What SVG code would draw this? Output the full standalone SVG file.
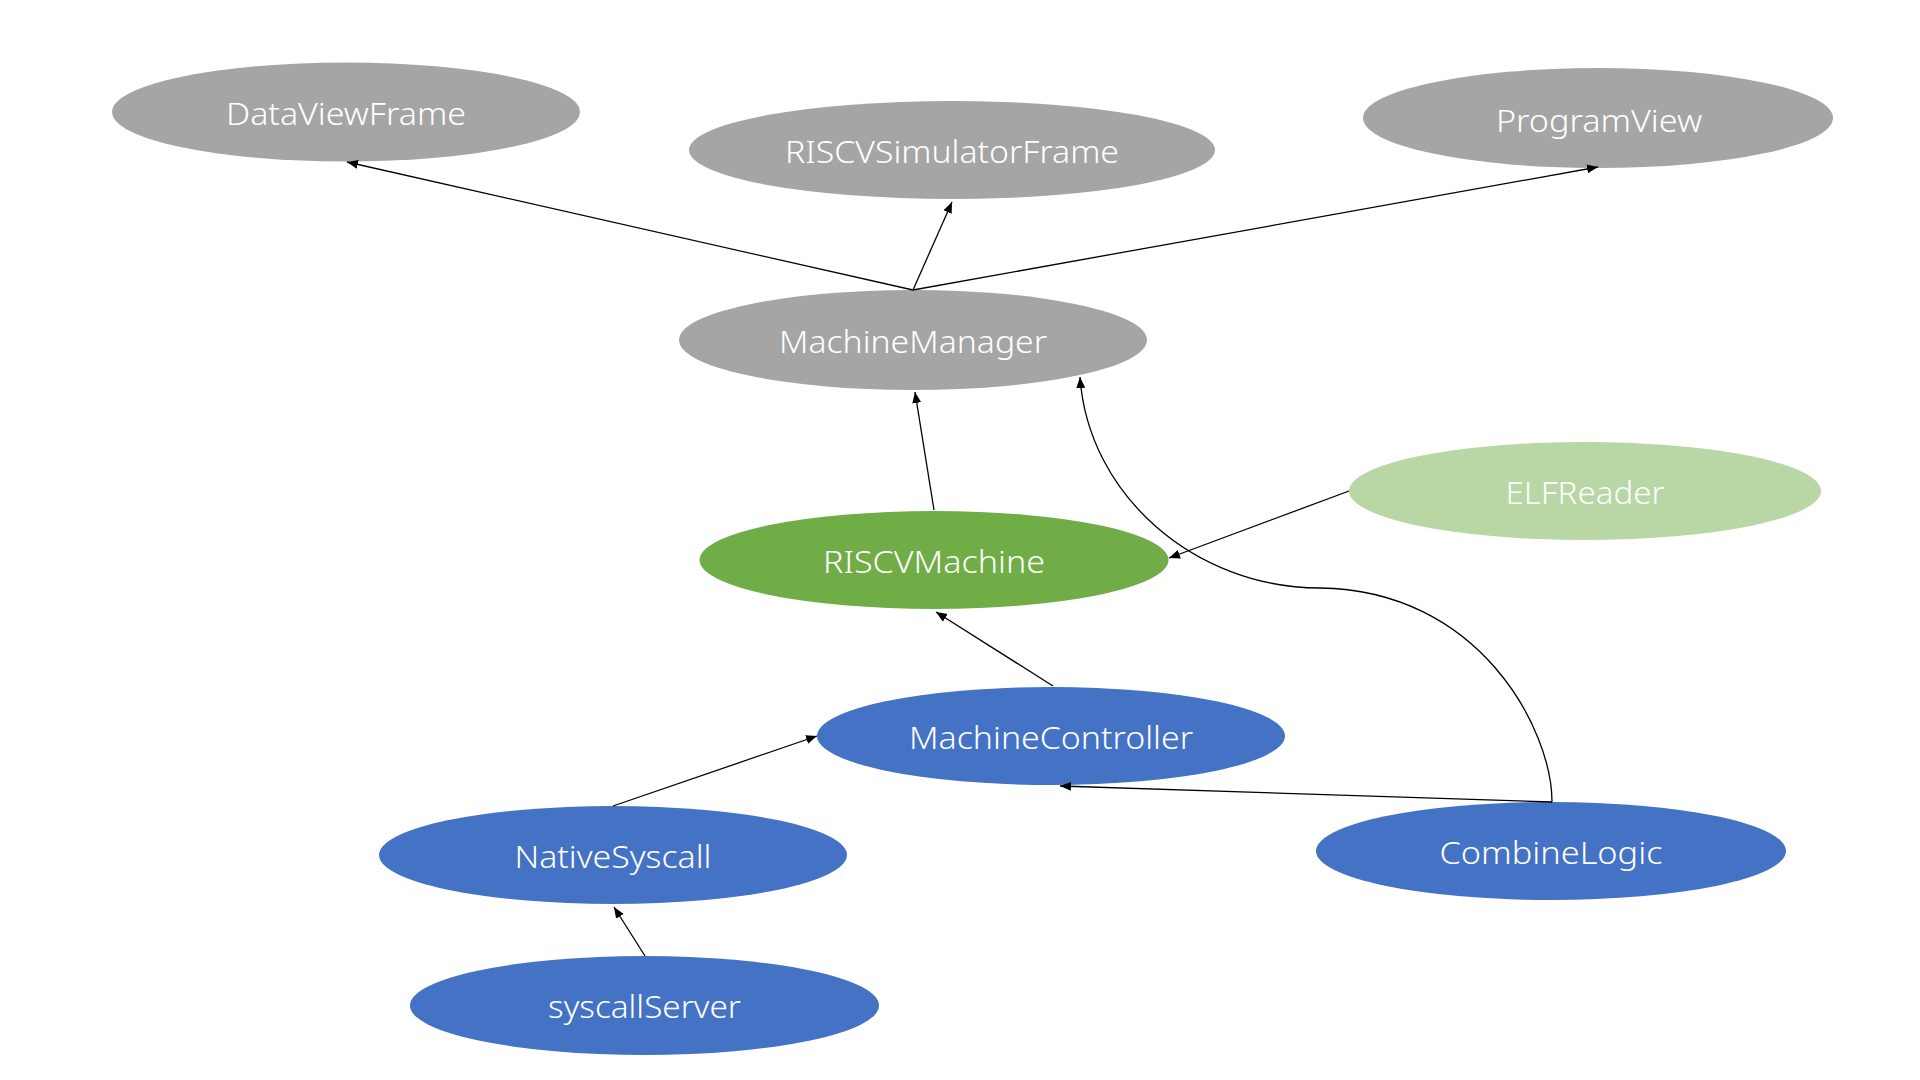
<svg xmlns="http://www.w3.org/2000/svg" width="1920" height="1080" viewBox="0 0 1920 1080">
<defs>
<style>
.gray{fill:#A5A5A5}
.green{fill:#70AD47}
.lgreen{fill:#B9D6A5}
.blue{fill:#4472C4}
.lbl{font-family:"Noto Sans","Open Sans","Liberation Sans",sans-serif;font-weight:300;font-size:32px;fill:#FFFFFF;text-anchor:middle}
.edge{fill:none;stroke:#000000;stroke-width:1.3}
</style>
<marker id="arr" markerUnits="userSpaceOnUse" markerWidth="12" markerHeight="10" refX="11" refY="4.5" orient="auto">
<path d="M0,0 L11,4.5 L0,9 z" fill="#000000"/>
</marker>
</defs>
<rect x="0" y="0" width="1920" height="1080" fill="#FFFFFF"/>
<g id="nodes">
<g id="DataViewFrame"><ellipse class="gray" cx="346" cy="112" rx="234" ry="49.5"/><text class="lbl" x="346" y="125" textLength="240" lengthAdjust="spacingAndGlyphs">DataViewFrame</text></g>
<g id="RISCVSimulatorFrame"><ellipse class="gray" cx="952" cy="150" rx="263" ry="49"/><text class="lbl" x="952" y="163" textLength="334" lengthAdjust="spacingAndGlyphs">RISCVSimulatorFrame</text></g>
<g id="ProgramView"><ellipse class="gray" cx="1598" cy="118" rx="235" ry="50"/><text class="lbl" x="1599" y="132" textLength="206" lengthAdjust="spacingAndGlyphs">ProgramView</text></g>
<g id="MachineManager"><ellipse class="gray" cx="913" cy="340" rx="234" ry="50"/><text class="lbl" x="913" y="353" textLength="268" lengthAdjust="spacingAndGlyphs">MachineManager</text></g>
<g id="ELFReader"><ellipse class="lgreen" cx="1585" cy="491" rx="236" ry="49"/><text class="lbl" x="1585" y="504" textLength="159" lengthAdjust="spacingAndGlyphs">ELFReader</text></g>
<g id="RISCVMachine"><ellipse class="green" cx="934" cy="560" rx="234.5" ry="49"/><text class="lbl" x="934" y="573" textLength="222" lengthAdjust="spacingAndGlyphs">RISCVMachine</text></g>
<g id="MachineController"><ellipse class="blue" cx="1051" cy="736" rx="234" ry="49"/><text class="lbl" x="1051" y="749" textLength="284" lengthAdjust="spacingAndGlyphs">MachineController</text></g>
<g id="NativeSyscall"><ellipse class="blue" cx="613" cy="855" rx="234" ry="49"/><text class="lbl" x="613" y="868" textLength="197" lengthAdjust="spacingAndGlyphs">NativeSyscall</text></g>
<g id="CombineLogic"><ellipse class="blue" cx="1551" cy="851" rx="235" ry="49"/><text class="lbl" x="1551" y="864" textLength="223" lengthAdjust="spacingAndGlyphs">CombineLogic</text></g>
<g id="syscallServer"><ellipse class="blue" cx="644.5" cy="1005.5" rx="234.5" ry="49.5"/><text class="lbl" x="644.5" y="1018" textLength="193" lengthAdjust="spacingAndGlyphs">syscallServer</text></g>
</g>
<g id="connectors">
<path class="edge" marker-end="url(#arr)" d="M913,290 L347,162"/>
<path class="edge" marker-end="url(#arr)" d="M913,290 L952,202"/>
<path class="edge" marker-end="url(#arr)" d="M913,290 L1598,167"/>
<path class="edge" marker-end="url(#arr)" d="M934,510 L915,392"/>
<path class="edge" marker-end="url(#arr)" d="M1349,491 L1169,558"/>
<path class="edge" marker-end="url(#arr)" d="M1053,686 L936,612"/>
<path class="edge" marker-end="url(#arr)" d="M613,806 L817,736"/>
<path class="edge" marker-end="url(#arr)" d="M1552,802 L1060,786"/>
<path class="edge" marker-end="url(#arr)" d="M645,956 L614,907"/>
<path class="edge" marker-end="url(#arr)" d="M1552,802 C1552,730 1480,590 1320,588 C1195,588 1088,495 1080,377"/>
</g>
</svg>
